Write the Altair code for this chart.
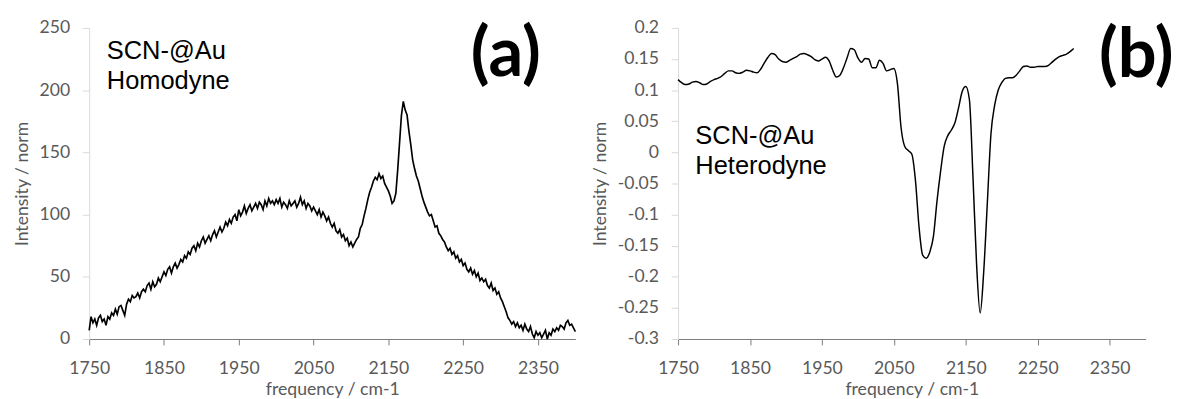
import altair as alt
import pandas as pd

# ---------------- data ----------------
homo_start = 1750.0
homo_step = 2.5
homo_values = [
    7, 18, 13, 16, 11, 17, 19, 14, 16, 11,
    18, 16, 21, 19, 24, 20, 26, 27, 23, 19,
    28, 32, 30, 35, 33, 34, 37, 33, 38, 40,
    38, 43, 45, 40, 46, 42, 44, 49, 46, 50,
    54, 51, 56, 58, 53, 58, 61, 57, 60, 64,
    62, 67, 65, 70, 68, 73, 75, 71, 77, 74,
    79, 82, 77, 80, 83, 79, 84, 87, 82, 86,
    90, 86, 89, 94, 91, 96, 93, 98, 100, 95,
    104, 99, 102, 107, 101, 105, 108, 103, 106, 109,
    105, 110, 108, 104, 111, 107, 113, 109, 111, 108,
    112, 109, 113, 106, 110, 108, 105, 111, 107, 109,
    111, 106, 109, 114, 108, 111, 105, 109, 107, 103,
    106, 103, 100, 104, 98, 102, 99, 95, 98, 93,
    90, 93, 87, 85, 88, 82, 84, 79, 81, 75,
    78, 74, 77, 80, 82, 89, 92, 99, 105, 112,
    118, 122, 127, 130, 128, 133, 129, 131, 125, 122,
    119, 115, 109, 111, 117, 136, 158, 180, 191, 184,
    180, 167, 156, 144, 137, 131, 127, 121, 115, 110,
    106, 102, 99, 100, 95, 90, 91, 85, 83, 80,
    78, 74, 71, 73, 68, 70, 65, 67, 62, 64,
    59, 61, 56, 54, 57, 52, 55, 50, 53, 47,
    49, 46, 48, 43, 41, 45, 39, 41, 36, 38,
    33, 30, 26, 22, 17, 15, 12, 14, 10, 13,
    9, 11, 7, 12, 8, 6, 10, 4, 1, 6,
    3, 5, 1, 4, 7, 0, 5, 3, 8, 6,
    9, 7, 11, 10, 8, 13, 15, 11, 12, 9,
    6,
]

hetero_start = 1750.0
hetero_step = 5.0
hetero_values = [
    0.117, 0.112, 0.109, 0.110, 0.113, 0.114, 0.112, 0.109, 0.110, 0.114,
    0.117, 0.119, 0.122, 0.127, 0.131, 0.131, 0.128, 0.127, 0.129, 0.132,
    0.131, 0.129, 0.128, 0.134, 0.144, 0.153, 0.159, 0.157, 0.150, 0.146,
    0.145, 0.148, 0.151, 0.154, 0.158, 0.159, 0.157, 0.154, 0.149, 0.147,
    0.150, 0.153, 0.147, 0.132, 0.121, 0.124, 0.136, 0.152, 0.167, 0.165,
    0.152, 0.145, 0.151, 0.150, 0.136, 0.136, 0.148, 0.143, 0.131, 0.133,
    0.135, 0.110, 0.040, 0.010, 0.003, -0.003, -0.045, -0.120, -0.165, -0.170,
    -0.160, -0.135, -0.078, -0.030, 0.010, 0.027, 0.036, 0.048, 0.072, 0.098,
    0.106, 0.085, -0.040, -0.180, -0.258, -0.190, -0.080, 0.030, 0.075, 0.100,
    0.112, 0.119, 0.120, 0.120, 0.124, 0.131, 0.138, 0.139, 0.137, 0.137,
    0.138, 0.138, 0.138, 0.140, 0.145, 0.150, 0.154, 0.156, 0.158, 0.162,
    0.167,
]

x_ticks = [1750, 1850, 1950, 2050, 2150, 2250, 2350]
left_y_ticks = [0, 50, 100, 150, 200, 250]
right_y_ticks = [0.2, 0.15, 0.1, 0.05, 0, -0.05, -0.1, -0.15, -0.2, -0.25, -0.3]

left_note_lines = ["SCN-@Au", "Homodyne"]
right_note_lines = ["SCN-@Au", "Heterodyne"]
left_tag = "(a)"
right_tag = "(b)"

x_title = "frequency / cm-1"
y_title = "Intensity / norm"

# ---------------- tables ----------------
homo_df = pd.DataFrame({
    "freq": [homo_start + i * homo_step for i in range(len(homo_values))],
    "val": homo_values,
})
hetero_df = pd.DataFrame({
    "freq": [hetero_start + i * hetero_step for i in range(len(hetero_values))],
    "val": hetero_values,
})

left_notes = pd.DataFrame({"freq": [1773.5, 1773.5], "val": [225, 201], "t": left_note_lines})
right_notes = pd.DataFrame({"freq": [1774, 1774], "val": [0.013, -0.034], "t": right_note_lines})
left_tag_df = pd.DataFrame({"freq": [2307], "val": [228], "t": [left_tag]})
right_tag_df = pd.DataFrame({"freq": [2387], "val": [0.154], "t": [right_tag]})

GREY_TXT = "#595959"
LIGHT = "#d9d9d9"
DARK_AX = "#7a7a7a"

x_scale = alt.Scale(domain=[1750, 2400], nice=False, zero=False)
x_axis = alt.Axis(values=x_ticks, title=x_title, domainColor=DARK_AX, tickColor=DARK_AX,
                  tickSize=6, labelPadding=15, titlePadding=4, format="d", labelFlush=False)


def panel(df, notes, tag_df, y_domain, y_ticks, y_label_expr, w, interp, sw):
    y_scale = alt.Scale(domain=y_domain, nice=False, zero=False)
    y_axis = alt.Axis(values=y_ticks, title=y_title, domainColor=LIGHT, tickColor=LIGHT,
                      tickSize=7, labelPadding=13, titlePadding=8, labelExpr=y_label_expr,
                      labelOverlap=False, tickCount=len(y_ticks))
    enc_x = alt.X("freq:Q", scale=x_scale, axis=x_axis)
    enc_y = alt.Y("val:Q", scale=y_scale, axis=y_axis)
    line = alt.Chart(df).mark_line(color="black", strokeWidth=sw, interpolate=interp).encode(
        x=enc_x, y=enc_y)
    note = alt.Chart(notes).mark_text(align="left", baseline="alphabetic", font="Liberation Sans",
                                      fontSize=26, color="black").encode(
        x=enc_x, y=enc_y, text="t:N")
    tag = alt.Chart(tag_df).mark_text(align="center", baseline="middle", font="Lato",
                                      fontWeight="bold", fontSize=70, color="black").encode(
        x=enc_x, y=enc_y, text="t:N")
    return alt.layer(line, note, tag).properties(width=w, height=318)


left = panel(homo_df, left_notes, left_tag_df, [0, 250], left_y_ticks, "datum.label",
             497, "linear", 1.7)
right = panel(hetero_df, right_notes, right_tag_df, [-0.3, 0.2], right_y_ticks,
              "toString(round(datum.value*100)/100)", 478, "monotone", 1.5)

chart = alt.hconcat(left, right, spacing=12).properties(
    padding={"left": 5, "top": 7, "right": 0, "bottom": 0}
).configure_view(stroke=None).configure_axis(
    grid=False, labelFont="Lato", labelFontSize=18, labelColor=GREY_TXT,
    titleFont="Lato", titleFontSize=18, titleFontWeight="normal", titleColor=GREY_TXT,
)

chart.save("out.html", embed_options={"renderer": "svg", "actions": False})
